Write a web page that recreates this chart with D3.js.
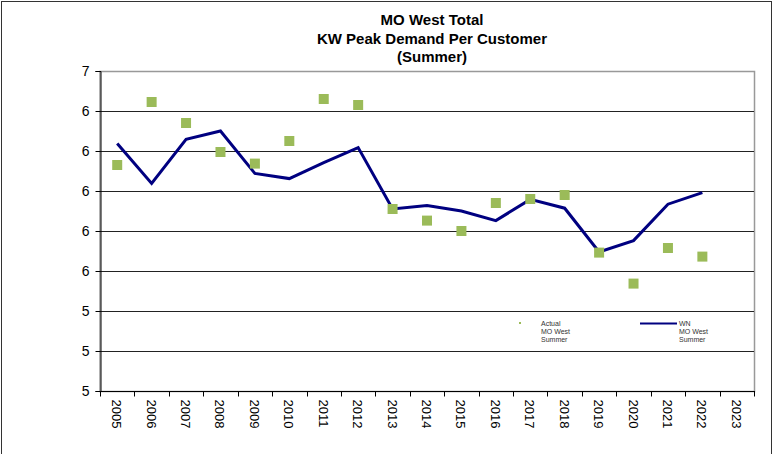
<!DOCTYPE html>
<html>
<head>
<meta charset="utf-8">
<script src="https://cdn.jsdelivr.net/npm/d3@7"></script>
<style>
  html, body { margin: 0; padding: 0; background: #fff; }
  svg { display: block; font-family: "Liberation Sans", Arial, sans-serif; }
</style>
</head>
<body>
<svg id="chart" width="784" height="454"></svg>
<script>
// Summer peak demand per customer, MO West
const years = ["2005","2006","2007","2008","2009","2010","2011","2012","2013","2014",
               "2015","2016","2017","2018","2019","2020","2021","2022","2023"];
const actual = [6.13, 6.445, 6.34, 6.195, 6.137, 6.25, 6.46, 6.43, 5.91, 5.852,
                5.80, 5.94, 5.96, 5.98, 5.692, 5.537, 5.715, 5.672, null];
const weatherNormal = [6.237, 6.038, 6.258, 6.30, 6.088, 6.062, 6.142, 6.217, 5.91, 5.927,
                       5.90, 5.852, 5.958, 5.914, 5.695, 5.752, 5.934, 5.992, null];
const yTicks = [5.0, 5.2, 5.4, 5.6, 5.8, 6.0, 6.2, 6.4, 6.6];
const titleLines = ["MO West Total", "KW Peak Demand Per Customer", "(Summer)"];

const svg = d3.select("#chart");
const plot = { left: 100, right: 754, top: 71, bottom: 391 };

// outer frame
svg.append("rect")
  .attr("x", 1.5).attr("y", 1.5).attr("width", 770).attr("height", 470)
  .attr("fill", "none").attr("stroke", "#333").attr("stroke-width", 1);

const x = d3.scaleBand().domain(years).range([plot.left, plot.right]).padding(0);
const y = d3.scaleLinear().domain([5.0, 6.6]).range([plot.bottom, plot.top]);

// title
svg.append("g").selectAll("text").data(titleLines).join("text")
  .attr("x", 432).attr("y", (d, i) => 25 + i * 18.5)
  .attr("text-anchor", "middle")
  .attr("font-size", 15).attr("font-weight", "bold").attr("fill", "#000")
  .text(d => d);

// plot border
svg.append("rect")
  .attr("x", plot.left).attr("y", plot.top + 0.5)
  .attr("width", plot.right - plot.left + 0.5).attr("height", plot.bottom - plot.top)
  .attr("fill", "none").attr("stroke", "#999").attr("stroke-width", 1.5);

// horizontal gridlines
svg.append("g").selectAll("line").data(yTicks.filter(t => t > 5.0 && t < 6.6)).join("line")
  .attr("x1", plot.left).attr("x2", plot.right)
  .attr("y1", d => Math.round(y(d)) + 0.5).attr("y2", d => Math.round(y(d)) + 0.5)
  .attr("stroke", "#222").attr("stroke-width", 1);

// y axis
const yAxis = d3.axisLeft(y).tickValues(yTicks).tickSize(5).tickPadding(6)
  .tickFormat(d => d.toFixed(0));
svg.append("g").attr("transform", `translate(${plot.left + 0.5},0)`).call(yAxis)
  .call(g => g.select(".domain").attr("stroke", "#000"))
  .call(g => g.selectAll(".tick line").attr("stroke", "#000"))
  .call(g => g.selectAll(".tick text").attr("font-size", 14).attr("fill", "#000")
    .attr("font-family", "Liberation Sans, Arial, sans-serif"));

// x axis: ticks at category boundaries
const xg = svg.append("g").attr("transform", `translate(0,${plot.bottom + 0.5})`);
xg.append("line").attr("x1", plot.left).attr("x2", plot.right + 1)
  .attr("stroke", "#000");
const bounds = years.map(d => x(d)).concat([plot.right]);
xg.selectAll("line.tk").data(bounds).join("line").attr("class", "tk")
  .attr("x1", d => Math.round(d) + 0.5).attr("x2", d => Math.round(d) + 0.5)
  .attr("y1", 0).attr("y2", 5).attr("stroke", "#000");
xg.selectAll("text").data(years).join("text")
  .attr("transform", d => `translate(${x(d) + x.bandwidth() / 2 - 5},8) rotate(90)`)
  .attr("font-size", 13).attr("fill", "#000")
  .text(d => d);

const cx = d => x(d) + x.bandwidth() / 2;

// weather-normal line
const pts = years.map((yr, i) => ({ yr, v: weatherNormal[i] })).filter(d => d.v != null);
svg.append("path").datum(pts)
  .attr("d", d3.line().x(d => cx(d.yr)).y(d => y(d.v)))
  .attr("fill", "none").attr("stroke", "#000080").attr("stroke-width", 3)
  .attr("stroke-linejoin", "miter");

// actual markers
const act = years.map((yr, i) => ({ yr, v: actual[i] })).filter(d => d.v != null);
const ms = 10;
svg.append("g").selectAll("rect").data(act).join("rect")
  .attr("x", d => cx(d.yr) - ms / 2).attr("y", d => y(d.v) - ms / 2)
  .attr("width", ms).attr("height", ms).attr("fill", "#9BBB59");

// legend
const lg = svg.append("g").attr("font-size", 7).attr("fill", "#333");
lg.append("rect").attr("x", 519).attr("y", 322).attr("width", 2).attr("height", 2).attr("fill", "#9BBB59");
["Actual", "MO West", "Summer"].forEach((t, i) =>
  lg.append("text").attr("x", 541).attr("y", 326 + i * 8).attr("fill", "#333").text(t));
lg.append("line").attr("x1", 640).attr("x2", 677).attr("y1", 323.5).attr("y2", 323.5)
  .attr("stroke", "#000080").attr("stroke-width", 2);
["WN", "MO West", "Summer"].forEach((t, i) =>
  lg.append("text").attr("x", 679).attr("y", 326 + i * 8).attr("fill", "#333").text(t));
</script>
</body>
</html>
